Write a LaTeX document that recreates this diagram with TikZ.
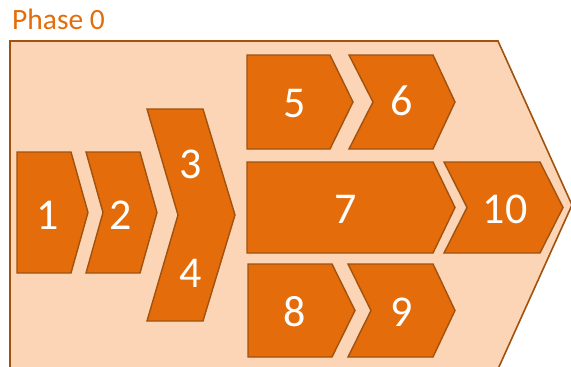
\documentclass[tikz,border=0pt]{standalone}
\usepackage{fontspec}
\setmainfont{Carlito}
\usepackage{xcolor}
\definecolor{phaseorange}{HTML}{E46C0A}
\definecolor{phaseline}{HTML}{A0520E}
\definecolor{phasepeach}{HTML}{FBD5B5}
\usetikzlibrary{positioning}

\begin{document}
\begin{tikzpicture}[
        x=1pt, y=-1pt,
        phase/.style  ={draw=phaseline, fill=phasepeach, line width=1.6pt, line join=miter},
        chev/.style   ={draw=phaseline, fill=phaseorange, line width=1.4pt, line join=miter},
        num/.style    ={text=white, font=\fontsize{44}{44}\selectfont, inner sep=0pt},
        ttl/.style    ={text=phaseorange, font=\fontsize{29.5}{29.5}\selectfont, inner sep=0pt}
    ]
      \useasboundingbox (0,0) rectangle (571,367);
      \clip (0,0) rectangle (571,367);

      % ===== PHASE ARROW =====
      \draw[phase] (10,41) -- (498,41) -- (572,205) -- (498,369) -- (10,369) -- cycle;
      \node[ttl, anchor=base west] (title) at (12,29) {Phase 0};

      % ===== CHEVRONS =====
      % left / top / right / bottom / tip depth / notch depth
      \foreach \l/\t/\r/\b/\d/\n in {17/152/71/273/17/0,
                                     86/152/140/273/17/17,
                                     147/109/203/321/32/31,
                                     247/55/330/149/23/0,
                                     349/55/433/149/22/24,
                                     247/162/433/253/22/0,
                                     444/162/540/253/23/23,
                                     248/264/332/357/23/0,
                                     348/264/433/357/22/23}
        \draw[chev] (\l,\t) -- (\r,\t) -- ({\r+\d},{(\t+\b)/2}) -- (\r,\b)
                    -- (\l,\b) -- ({\l+\n},{(\t+\b)/2}) -- cycle;

      % ===== LABELS =====
      \node[num] (s1)  at (48,215)  {1};
      \node[num] (s2)  at (121,215) {2};
      \node[num] (s3)  at (191,164) {3};
      \node[num] (s4)  at (191,273) {4};
      \node[num] (s5)  at (295,104) {5};
      \node[num] (s6)  at (402,101) {6};
      \node[num] (s7)  at (346,209) {7};
      \node[num] (s10) at (505,209) {10};
      \node[num] (s8)  at (295,312) {8};
      \node[num] (s9)  at (402,312) {9};
    \end{tikzpicture}
\end{document}
